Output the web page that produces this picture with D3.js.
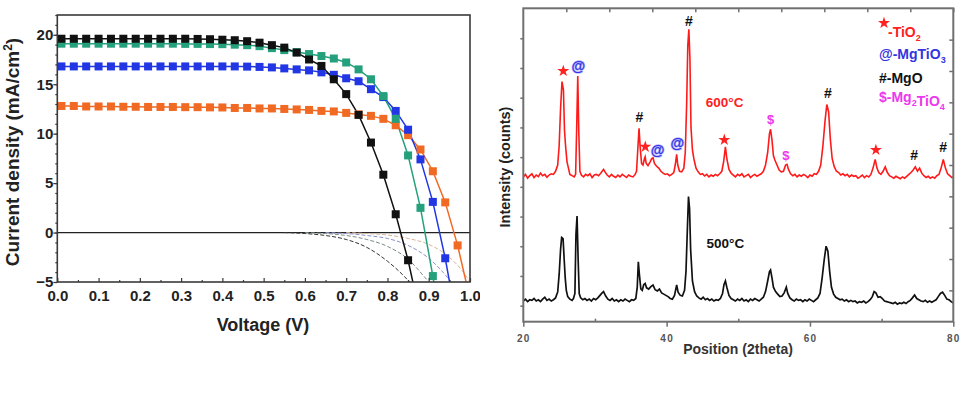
<!DOCTYPE html>
<html><head><meta charset="utf-8">
<script src="https://cdn.jsdelivr.net/npm/d3@7"></script>
<style>
body{margin:0;background:#fff}
svg{display:block}
text{font-family:"Liberation Sans",Arial,Helvetica,sans-serif}
</style>
</head><body>
<svg id="c" width="961" height="397"></svg>
<script>
// ================= LEFT PANEL : J–V curves =================
const voltage = [0.01,0.04,0.07,0.10,0.13,0.16,0.19,0.22,0.25,0.28,0.31,0.34,0.37,0.40,0.43,0.46,0.49,0.52,0.55,0.58,0.61,0.64,0.67,0.70,0.73,0.76,0.79,0.82,0.85,0.88,0.91,0.94,0.97,1.00];
const jBlack  = [19.6,19.6,19.6,19.6,19.6,19.6,19.6,19.6,19.6,19.6,19.6,19.58,19.55,19.5,19.45,19.35,19.2,18.95,18.7,18.2,17.5,16.85,15.5,14.0,11.9,9.1,5.85,1.85,-2.8,-8.5];
const jGreen  = [19.1,19.1,19.1,19.1,19.1,19.1,19.1,19.1,19.1,19.1,19.08,19.08,19.06,19.05,19.0,18.95,18.85,18.65,18.45,18.25,18.05,17.85,17.6,17.2,16.5,15.5,13.8,11.5,7.8,2.5,-4.4,-12.0];
const jBlue   = [16.8,16.8,16.8,16.8,16.8,16.8,16.8,16.8,16.8,16.8,16.8,16.8,16.8,16.8,16.8,16.78,16.75,16.7,16.6,16.5,16.4,16.2,15.95,15.6,15.3,14.5,13.7,12.3,10.4,7.4,3.1,-2.6,-9.5];
const jOrange = [12.8,12.8,12.75,12.75,12.75,12.72,12.72,12.7,12.7,12.7,12.68,12.68,12.66,12.65,12.6,12.6,12.55,12.55,12.5,12.45,12.4,12.3,12.25,12.1,11.95,11.8,11.5,10.85,9.85,8.4,6.2,3.05,-1.3,-6.7];
const seriesNames = ["black","green","blue","orange"];

// dark-current curves (dashed)
const darkBlackV  = [0.55,0.60,0.65,0.70,0.75,0.80,0.84,0.87];
const darkBlackJ  = [0,-0.1,-0.3,-0.7,-1.5,-2.9,-4.4,-5.8];
const darkGreenV  = [0.60,0.65,0.70,0.75,0.80,0.85,0.89,0.92];
const darkGreenJ  = [0,-0.1,-0.3,-0.7,-1.4,-2.7,-4.5,-6.0];
const darkBlueV   = [0.65,0.70,0.75,0.80,0.85,0.90,0.93,0.96];
const darkBlueJ   = [0,-0.1,-0.3,-0.6,-1.3,-2.6,-3.8,-5.3];
const darkOrangeV = [0.70,0.75,0.80,0.85,0.90,0.95,0.98,1.00];
const darkOrangeJ = [0,-0.1,-0.25,-0.6,-1.2,-2.5,-3.8,-5.0];

const voltTicks = [0.0,0.1,0.2,0.3,0.4,0.5,0.6,0.7,0.8,0.9,1.0];
const currTicks = [-5,0,5,10,15,20];

// ================= RIGHT PANEL : XRD =================
const xrd600 = [[20.0,462],[20.3,470],[20.6,458],[20.9,466],[21.2,472],[21.5,460],[21.8,468],[22.1,463],[22.4,474],[22.7,466],[23.0,470],[23.3,461],[23.6,468],[23.9,472],[24.2,470],[24.5,480],[24.8,500],[25.0,560],[25.2,680],[25.4,766],[25.6,740],[25.75,610],[25.9,560],[26.1,510],[26.3,490],[26.5,470],[26.8,466],[27.1,462],[27.3,470],[27.45,620],[27.6,784],[27.75,600],[27.9,480],[28.1,468],[28.4,462],[28.7,470],[29.0,466],[29.3,472],[29.6,460],[29.9,468],[30.2,470],[30.5,466],[30.8,474],[31.0,480],[31.2,486],[31.4,478],[31.7,468],[32.0,462],[32.3,470],[32.6,464],[32.9,460],[33.2,468],[33.5,462],[33.8,470],[34.1,465],[34.4,460],[34.7,468],[35.0,464],[35.3,462],[35.6,470],[35.8,480],[36.0,560],[36.15,617],[36.3,560],[36.5,505],[36.7,500],[36.9,520],[37.0,526],[37.15,505],[37.4,498],[37.7,510],[37.9,520],[38.1,523],[38.3,505],[38.6,496],[38.9,490],[39.2,480],[39.5,474],[39.8,470],[40.1,472],[40.4,466],[40.7,470],[41.0,476],[41.2,500],[41.4,534],[41.55,500],[41.8,480],[42.1,478],[42.4,490],[42.6,540],[42.8,700],[42.95,880],[43.1,933],[43.25,840],[43.4,620],[43.6,548],[43.8,520],[44.1,490],[44.4,478],[44.7,470],[45.0,472],[45.3,465],[45.6,470],[45.9,462],[46.2,468],[46.5,464],[46.8,470],[47.1,466],[47.4,472],[47.7,480],[47.95,510],[48.2,558],[48.4,520],[48.7,486],[49.0,474],[49.3,468],[49.6,462],[49.9,470],[50.2,466],[50.5,472],[50.8,462],[51.1,466],[51.4,470],[51.7,460],[52.0,466],[52.3,470],[52.6,464],[52.9,468],[53.2,472],[53.5,480],[53.8,500],[54.1,540],[54.35,600],[54.5,614],[54.7,580],[54.9,530],[55.1,516],[55.4,500],[55.7,484],[56.0,478],[56.3,480],[56.6,500],[56.8,502],[57.0,486],[57.3,472],[57.6,466],[57.9,470],[58.2,462],[58.5,468],[58.8,464],[59.1,470],[59.4,466],[59.7,460],[60.0,468],[60.3,464],[60.6,472],[60.9,470],[61.2,480],[61.5,500],[61.8,560],[62.1,640],[62.35,693],[62.6,670],[62.85,580],[63.1,520],[63.4,494],[63.7,480],[64.0,476],[64.3,468],[64.6,472],[64.9,466],[65.2,470],[65.5,462],[65.8,468],[66.1,464],[66.4,466],[66.7,458],[67.0,462],[67.3,468],[67.6,460],[67.9,466],[68.2,462],[68.5,470],[68.8,490],[69.1,518],[69.35,490],[69.6,476],[69.9,470],[70.2,480],[70.5,494],[70.8,476],[71.1,466],[71.4,462],[71.7,458],[72.0,464],[72.3,460],[72.6,456],[72.9,462],[73.2,458],[73.5,464],[73.8,470],[74.1,476],[74.4,484],[74.7,494],[75.0,480],[75.3,490],[75.6,474],[75.9,466],[76.2,460],[76.5,464],[76.8,458],[77.1,462],[77.4,458],[77.7,466],[78.0,470],[78.3,490],[78.6,518],[78.9,490],[79.2,472],[79.5,466],[79.8,460],[80.0,462]];
const xrd500 = [[20.0,66],[20.3,72],[20.6,64],[20.9,70],[21.2,68],[21.5,74],[21.8,66],[22.1,70],[22.4,64],[22.7,72],[23.0,78],[23.3,68],[23.6,72],[23.9,66],[24.2,70],[24.5,76],[24.8,95],[25.0,150],[25.2,230],[25.35,269],[25.55,265],[25.7,200],[25.85,140],[26.0,100],[26.2,80],[26.5,72],[26.8,68],[27.0,74],[27.2,90],[27.35,280],[27.5,337],[27.65,200],[27.8,90],[28.0,76],[28.3,70],[28.6,74],[28.9,68],[29.2,72],[29.5,66],[29.8,74],[30.1,70],[30.4,76],[30.7,84],[31.0,92],[31.2,96],[31.5,82],[31.8,72],[32.1,68],[32.4,74],[32.7,66],[33.0,70],[33.3,64],[33.6,70],[33.9,66],[34.2,72],[34.5,68],[34.8,64],[35.1,70],[35.4,68],[35.7,74],[35.9,110],[36.05,191],[36.2,150],[36.4,105],[36.6,100],[36.8,118],[37.0,122],[37.2,108],[37.5,104],[37.8,112],[38.1,117],[38.4,102],[38.7,98],[39.0,104],[39.3,92],[39.6,88],[39.9,84],[40.2,80],[40.5,74],[40.8,72],[41.1,84],[41.4,117],[41.6,94],[41.9,84],[42.2,82],[42.5,100],[42.7,160],[42.9,300],[43.05,399],[43.2,360],[43.35,230],[43.6,130],[43.9,96],[44.2,82],[44.5,76],[44.8,72],[45.1,78],[45.4,70],[45.7,74],[46.0,68],[46.3,72],[46.6,66],[46.9,70],[47.2,68],[47.5,74],[47.8,90],[48.0,118],[48.2,130],[48.4,110],[48.7,84],[49.0,74],[49.3,70],[49.6,66],[49.9,72],[50.2,68],[50.5,74],[50.8,66],[51.1,70],[51.4,64],[51.7,72],[52.0,68],[52.3,74],[52.6,70],[52.9,66],[53.2,72],[53.5,78],[53.8,96],[54.1,130],[54.35,160],[54.5,165],[54.7,140],[54.9,110],[55.2,96],[55.5,88],[55.8,80],[56.1,82],[56.4,92],[56.7,110],[56.9,90],[57.2,76],[57.5,70],[57.8,66],[58.1,72],[58.4,68],[58.7,70],[59.0,64],[59.3,70],[59.6,66],[59.9,72],[60.2,68],[60.5,64],[60.8,70],[61.1,76],[61.4,90],[61.7,140],[62.0,200],[62.25,241],[62.5,225],[62.75,160],[63.0,110],[63.3,88],[63.6,78],[63.9,74],[64.2,70],[64.5,72],[64.8,66],[65.1,70],[65.4,64],[65.7,68],[66.0,64],[66.3,66],[66.6,60],[66.9,64],[67.2,62],[67.5,66],[67.8,60],[68.1,64],[68.4,70],[68.7,80],[68.95,96],[69.2,92],[69.5,78],[69.8,80],[70.1,74],[70.4,66],[70.7,64],[71.0,62],[71.3,60],[71.6,58],[71.9,62],[72.2,56],[72.5,60],[72.8,58],[73.1,62],[73.4,58],[73.7,64],[74.0,68],[74.3,76],[74.6,85],[74.9,74],[75.2,70],[75.5,66],[75.8,64],[76.1,68],[76.4,62],[76.7,66],[77.0,62],[77.3,66],[77.6,70],[77.9,80],[78.2,90],[78.5,94],[78.8,84],[79.1,72],[79.4,70],[79.7,64],[80.0,60]];

const twoThetaTicks = [20,40,60,80];
const twoThetaMinor = [30,50,70];
const twoThetaTop   = [26,32,38,44,50,56,62,68,74,80];
const leftIntTicks  = [0,100,200,300,400,500,600,700,800,900];
const rightIntTicks = [100,200,300,400,500,600,700,800,900];

const phases      = ["TiO2","MgTiO3","MgO","Mg2TiO4"];
const phaseSymbol = ["*","@","#","$"];

const markTheta = [25.58,27.67,43.12,36.19,37.02,38.75,41.5,48.05,54.5,56.65,62.5,69.2,74.55,78.6];
const markPhase = ["TiO2","MgTiO3","MgO","MgO","TiO2","MgTiO3","MgTiO3","TiO2","Mg2TiO4","Mg2TiO4","MgO","TiO2","MgO","MgO"];
const markLevel = [800,816,961,652,558,548,569,580,647,532,730,548,532,556];

const tempLabels = ["600","500"];
const tempTheta  = [48.1,48.2];
const tempLevel  = [686,234];

// ================= DRAWING =================
const svg = d3.select("#c");
svg.append("rect").attr("width",961).attr("height",397).attr("fill","#fff");
const defs = svg.append("defs");

// ---- left ----
const L = {x0:57.3, x1:470, y0:15, y1:282};
const xL = d3.scaleLinear([0,1],[L.x0,L.x1]);
const yL = d3.scaleLinear([-5,22],[L.y1,L.y0]);
defs.append("clipPath").attr("id","clipPanelL").append("rect").attr("x",0).attr("y",0).attr("width",480).attr("height",397);
defs.append("clipPath").attr("id","clipPlotL").append("rect").attr("x",L.x0).attr("y",L.y0).attr("width",L.x1-L.x0).attr("height",L.y1-L.y0);

const gL = svg.append("g").attr("clip-path","url(#clipPanelL)");
const color = d3.scaleOrdinal(seriesNames, ["#111111","#24a07c","#2236e4","#f06a24"]);

const plotL = gL.append("g").attr("clip-path","url(#clipPlotL)");
plotL.append("line").attr("x1",L.x0).attr("x2",L.x1).attr("y1",yL(0)).attr("y2",yL(0)).attr("stroke","#222").attr("stroke-width",1.3);

const darks = [
  {v:darkBlackV, j:darkBlackJ, c:"#333333"},
  {v:darkGreenV, j:darkGreenJ, c:"#7a8a88"},
  {v:darkBlueV, j:darkBlueJ, c:"#8a90cc"},
  {v:darkOrangeV, j:darkOrangeJ, c:"#d8b49a"}
];
darks.forEach(d=>{
  const pts = d.v.map((v,i)=>[xL(v), yL(d.j[i])]);
  plotL.append("path").attr("d", d3.line().curve(d3.curveMonotoneX)(pts))
    .attr("fill","none").attr("stroke",d.c).attr("stroke-width",1).attr("stroke-dasharray","4,2");
});

const seriesData = {black:jBlack, green:jGreen, blue:jBlue, orange:jOrange};
const drawOrder = ["orange","blue","green","black"];
drawOrder.forEach(name=>{
  const js = seriesData[name];
  const pts = js.map((j,i)=>[xL(voltage[i]), yL(j)]);
  plotL.append("path").attr("d", d3.line()(pts)).attr("fill","none")
    .attr("stroke",color(name)).attr("stroke-width",1.5);
});
drawOrder.forEach(name=>{
  const js = seriesData[name];
  plotL.append("g").selectAll("rect").data(js).join("rect")
    .attr("x",(j,i)=>xL(voltage[i])-4).attr("y",j=>yL(j)-4)
    .attr("width",8).attr("height",8).attr("fill",color(name));
});

gL.append("rect").attr("x",L.x0).attr("y",L.y0).attr("width",L.x1-L.x0).attr("height",L.y1-L.y0)
  .attr("fill","none").attr("stroke","#3a3a3a").attr("stroke-width",1.6);

const axY = gL.append("g").attr("transform",`translate(${L.x0},0)`)
  .call(d3.axisLeft(yL).tickValues(currTicks).tickSize(4).tickPadding(0).tickFormat(d3.format("d")));
const axYm = gL.append("g").attr("transform",`translate(${L.x0},0)`)
  .call(d3.axisLeft(yL).tickValues(d3.range(-5,22.01,1)).tickSize(2).tickFormat(""));
const axX = gL.append("g").attr("transform",`translate(0,${L.y1})`)
  .call(d3.axisBottom(xL).tickValues(voltTicks).tickSize(-4).tickPadding(8).tickFormat(d3.format(".1f")));
const axXm = gL.append("g").attr("transform",`translate(0,${L.y1})`)
  .call(d3.axisBottom(xL).tickValues(d3.range(0.05,1,0.1)).tickSize(-2).tickFormat(""));
[axY,axYm,axX,axXm].forEach(a=>{
  a.select(".domain").remove();
  a.selectAll("line").attr("stroke","#3a3a3a").attr("stroke-width",1.2);
  a.selectAll("text").attr("font-size",15).attr("font-weight","bold").attr("fill","#222");
});

gL.append("text").attr("x",263).attr("y",331).attr("text-anchor","middle")
  .attr("font-size",18).attr("font-weight","bold").attr("fill","#222").text("Voltage (V)");
const yt = gL.append("text").attr("transform","translate(19,152) rotate(-90)").attr("text-anchor","middle")
  .attr("font-size",19).attr("font-weight","bold").attr("fill","#222");
yt.append("tspan").text("Current density (mA/cm");
yt.append("tspan").attr("font-size",12).attr("dy",-7).text("2");
yt.append("tspan").attr("dy",7).text(")");

// ---- right ----
const R = {x0:523.3, x1:953.3, y0:8.3, y1:321.7};
const xR = d3.scaleLinear([20,80],[R.x0,R.x1]);
const yR = d3.scaleLinear([0,1000],[R.y1,R.y0]);
const yRleft = d3.scaleLinear([-54,1001],[R.y1,R.y0]);
defs.append("clipPath").attr("id","clipPlotR").append("rect").attr("x",R.x0).attr("y",R.y0).attr("width",R.x1-R.x0).attr("height",R.y1-R.y0);
const gR = svg.append("g");
const plotR = gR.append("g").attr("clip-path","url(#clipPlotR)");
const lineR = d3.line().x(d=>xR(d[0])).y(d=>yR(d[1]));
plotR.append("path").attr("d",lineR(xrd500)).attr("fill","none").attr("stroke","#111").attr("stroke-width",1.7);
plotR.append("path").attr("d",lineR(xrd600)).attr("fill","none").attr("stroke","#ff1a1a").attr("stroke-width",1.6);

const axisCol = "#707070";
gR.append("rect").attr("x",R.x0).attr("y",R.y0).attr("width",R.x1-R.x0).attr("height",R.y1-R.y0)
  .attr("fill","none").attr("stroke",axisCol).attr("stroke-width",2);

function styleAx(a){ a.select(".domain").remove(); a.selectAll("line").attr("stroke",axisCol).attr("stroke-width",1.5); }
const rb = gR.append("g").attr("transform",`translate(0,${R.y1})`)
  .call(d3.axisBottom(xR).tickValues(twoThetaTicks).tickSize(5).tickPadding(8).tickFormat(d3.format("d")));
styleAx(rb);
rb.selectAll("text").attr("font-size",10).attr("font-weight","bold").attr("fill","#555").attr("letter-spacing",1.2);
const rbm = gR.append("g").attr("transform",`translate(0,${R.y1})`)
  .call(d3.axisBottom(xR).tickValues(twoThetaMinor).tickSize(-3).tickFormat(""));
styleAx(rbm);
const rt = gR.append("g").attr("transform",`translate(0,${R.y0})`)
  .call(d3.axisTop(xR).tickValues(twoThetaTop).tickSize(-4).tickFormat(""));
styleAx(rt);
const rl = gR.append("g").attr("transform",`translate(${R.x0},0)`)
  .call(d3.axisLeft(yRleft).tickValues(leftIntTicks).tickSize(3).tickFormat(""));
styleAx(rl);
const rr = gR.append("g").attr("transform",`translate(${R.x1},0)`)
  .call(d3.axisRight(yR).tickValues(rightIntTicks).tickSize(-4).tickFormat(""));
styleAx(rr);

gR.append("text").attr("x",738).attr("y",354).attr("text-anchor","middle")
  .attr("font-size",14).attr("font-weight","bold").attr("fill","#333").text("Position (2theta)");
gR.append("text").attr("transform","translate(510,167) rotate(-90)").attr("text-anchor","middle")
  .attr("font-size",14.5).attr("font-weight","bold").attr("fill","#222").text("Intensity (counts)");

const phaseColor = d3.scaleOrdinal(phases, ["#ff2020","#3434e0","#111111","#ee36ee"]);
function drawMark(g, phase, x, y){
  const sym = phaseSymbol[phases.indexOf(phase)];
  if (sym === "*") {
    g.append("path").attr("d", d3.symbol(d3.symbolStar, 45)())
      .attr("transform",`translate(${x},${y})`).attr("fill",phaseColor(phase));
  } else {
    const t = g.append("text").attr("x",x).attr("y",y).attr("dy","0.36em").attr("text-anchor","middle")
      .attr("font-weight","bold").attr("fill",phaseColor(phase)).text(sym);
    if (sym==="@") t.attr("font-size",14).attr("stroke","#b8b8ff").attr("stroke-width",1.4).attr("paint-order","stroke");
    else if (sym==="$") t.attr("font-size",13);
    else t.attr("font-size",14);
  }
}
markTheta.forEach((th,i)=> drawMark(gR, markPhase[i], xR(th), yR(markLevel[i])));

tempLabels.forEach((t,i)=>{
  gR.append("text").attr("x",xR(tempTheta[i])).attr("y",yR(tempLevel[i])).attr("text-anchor","middle")
    .attr("font-size",13.5).attr("font-weight","bold").attr("fill", i===0?"#ff2020":"#111")
    .text(t+"°C");
});

const legBase = [36.5, 59, 83, 101.5];
phases.forEach((p,i)=>{
  const x0 = 879;
  const t = gR.append("text").attr("y",legBase[i]).attr("font-size",14).attr("font-weight","bold").attr("fill",phaseColor(p));
  const sym = phaseSymbol[i];
  if (sym === "*") {
    gR.append("path").attr("d", d3.symbol(d3.symbolStar, 45)()).attr("transform",`translate(884,23)`).attr("fill",phaseColor(p));
    t.attr("x",888);
    t.append("tspan").text("-");
  } else {
    t.attr("x",x0);
    t.append("tspan").text(sym+"-");
  }
  p.match(/[A-Za-z]+|\d+/g).forEach(part=>{
    if (/\d/.test(part)) { t.append("tspan").attr("font-size",9).attr("dy",4).text(part); t.append("tspan").attr("dy",-4).text(""); }
    else t.append("tspan").text(part);
  });
});
</script>
</body></html>
